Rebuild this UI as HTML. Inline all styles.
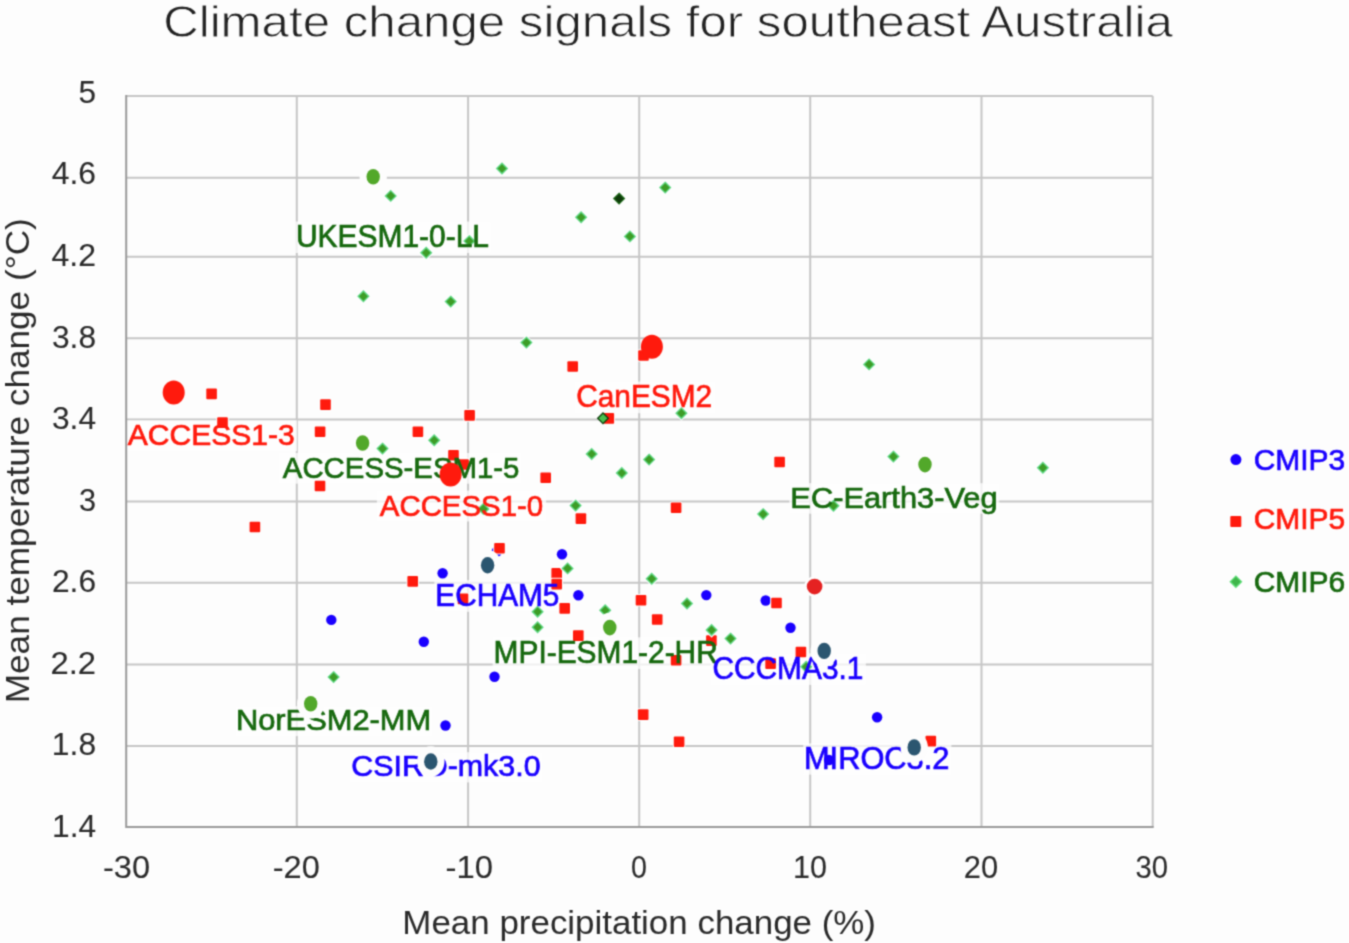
<!DOCTYPE html><html><head><meta charset="utf-8"><style>html,body{margin:0;padding:0;background:#fdfdfd;}svg{display:block;}text{font-family:"Liberation Sans",sans-serif;}</style></head><body>
<svg width="1349" height="943" viewBox="0 0 1349 943">
<defs><filter id="b" x="0" y="0" width="1349" height="943" filterUnits="userSpaceOnUse" color-interpolation-filters="sRGB"><feConvolveMatrix order="3" kernelMatrix="0.0400 0.1200 0.0400 0.1200 0.3600 0.1200 0.0400 0.1200 0.0400" edgeMode="duplicate" preserveAlpha="true"/></filter></defs><g filter="url(#b)">
<rect width="1349" height="943" fill="#fdfdfd"/>
<path d="M126.2 96.00H1152.7 M126.2 177.70H1152.7 M126.2 256.70H1152.7 M126.2 338.30H1152.7 M126.2 419.45H1152.7 M126.2 501.45H1152.7 M126.2 582.80H1152.7 M126.2 664.45H1152.7 M126.2 745.90H1152.7 M296.80 96.0V826.9 M468.10 96.0V826.9 M639.20 96.0V826.9 M810.20 96.0V826.9 M981.50 96.0V826.9 M1152.70 96.0V826.9" stroke="#c6c6c6" stroke-width="2" fill="none"/>
<rect x="295.2" y="221.5" width="196.1" height="31.5" fill="#fdfdfd" fill-opacity="0.75"/>
<rect x="124.4" y="420.3" width="172.6" height="30.9" fill="#fdfdfd" fill-opacity="0.75"/>
<rect x="279.4" y="453.0" width="242.0" height="30.7" fill="#fdfdfd" fill-opacity="0.75"/>
<rect x="574.5" y="381.6" width="140.1" height="31.6" fill="#fdfdfd" fill-opacity="0.75"/>
<rect x="376.9" y="490.6" width="169.2" height="30.9" fill="#fdfdfd" fill-opacity="0.75"/>
<rect x="789.3" y="483.2" width="209.9" height="30.5" fill="#fdfdfd" fill-opacity="0.75"/>
<rect x="434.3" y="580.1" width="127.6" height="31.7" fill="#fdfdfd" fill-opacity="0.75"/>
<rect x="492.6" y="637.4" width="226.9" height="31.5" fill="#fdfdfd" fill-opacity="0.75"/>
<rect x="710.8" y="653.3" width="155.1" height="31.6" fill="#fdfdfd" fill-opacity="0.75"/>
<rect x="235.2" y="706.2" width="196.9" height="29.9" fill="#fdfdfd" fill-opacity="0.75"/>
<rect x="349.3" y="752.2" width="193.4" height="30.2" fill="#fdfdfd" fill-opacity="0.75"/>
<rect x="803.2" y="743.4" width="148.2" height="31.2" fill="#fdfdfd" fill-opacity="0.75"/>
<path d="M126.20 95.0V826.90H1153.7" stroke="#9a9a9a" stroke-width="2" fill="none"/>
<circle cx="331.3" cy="619.9" r="5.2" fill="#1a00ff" stroke="#fdfdfd" stroke-width="2" paint-order="stroke"/>
<circle cx="442.6" cy="573.3" r="5.2" fill="#1a00ff" stroke="#fdfdfd" stroke-width="2" paint-order="stroke"/>
<circle cx="496.8" cy="551.5" r="5.2" fill="#1a00ff" stroke="#fdfdfd" stroke-width="2" paint-order="stroke"/>
<circle cx="562" cy="554.2" r="5.2" fill="#1a00ff" stroke="#fdfdfd" stroke-width="2" paint-order="stroke"/>
<circle cx="578.4" cy="595.3" r="5.2" fill="#1a00ff" stroke="#fdfdfd" stroke-width="2" paint-order="stroke"/>
<circle cx="706.3" cy="595.1" r="5.2" fill="#1a00ff" stroke="#fdfdfd" stroke-width="2" paint-order="stroke"/>
<circle cx="765.7" cy="600.5" r="5.2" fill="#1a00ff" stroke="#fdfdfd" stroke-width="2" paint-order="stroke"/>
<circle cx="790.5" cy="627.8" r="5.2" fill="#1a00ff" stroke="#fdfdfd" stroke-width="2" paint-order="stroke"/>
<circle cx="494.5" cy="676.8" r="5.2" fill="#1a00ff" stroke="#fdfdfd" stroke-width="2" paint-order="stroke"/>
<circle cx="423.8" cy="641.7" r="5.2" fill="#1a00ff" stroke="#fdfdfd" stroke-width="2" paint-order="stroke"/>
<circle cx="445.5" cy="725.5" r="5.2" fill="#1a00ff" stroke="#fdfdfd" stroke-width="2" paint-order="stroke"/>
<circle cx="877.1" cy="717.3" r="5.2" fill="#1a00ff" stroke="#fdfdfd" stroke-width="2" paint-order="stroke"/>
<circle cx="829" cy="760" r="5.2" fill="#1a00ff" stroke="#fdfdfd" stroke-width="2" paint-order="stroke"/>
<rect x="206.3" y="388.6" width="10.6" height="10.6" rx="1" fill="#ff1a0d" stroke="#fdfdfd" stroke-width="2" paint-order="stroke"/>
<rect x="217.2" y="417.3" width="10.6" height="10.6" rx="1" fill="#ff1a0d" stroke="#fdfdfd" stroke-width="2" paint-order="stroke"/>
<rect x="320.2" y="399.3" width="10.6" height="10.6" rx="1" fill="#ff1a0d" stroke="#fdfdfd" stroke-width="2" paint-order="stroke"/>
<rect x="314.8" y="426.4" width="10.6" height="10.6" rx="1" fill="#ff1a0d" stroke="#fdfdfd" stroke-width="2" paint-order="stroke"/>
<rect x="314.7" y="480.7" width="10.6" height="10.6" rx="1" fill="#ff1a0d" stroke="#fdfdfd" stroke-width="2" paint-order="stroke"/>
<rect x="249.6" y="521.7" width="10.6" height="10.6" rx="1" fill="#ff1a0d" stroke="#fdfdfd" stroke-width="2" paint-order="stroke"/>
<rect x="412.6" y="426.5" width="10.6" height="10.6" rx="1" fill="#ff1a0d" stroke="#fdfdfd" stroke-width="2" paint-order="stroke"/>
<rect x="464.3" y="410.1" width="10.6" height="10.6" rx="1" fill="#ff1a0d" stroke="#fdfdfd" stroke-width="2" paint-order="stroke"/>
<rect x="448.2" y="449.9" width="10.6" height="10.6" rx="1" fill="#ff1a0d" stroke="#fdfdfd" stroke-width="2" paint-order="stroke"/>
<rect x="458.3" y="459.2" width="10.6" height="10.6" rx="1" fill="#ff1a0d" stroke="#fdfdfd" stroke-width="2" paint-order="stroke"/>
<rect x="540.4" y="472.5" width="10.6" height="10.6" rx="1" fill="#ff1a0d" stroke="#fdfdfd" stroke-width="2" paint-order="stroke"/>
<rect x="567.4" y="361.2" width="10.6" height="10.6" rx="1" fill="#ff1a0d" stroke="#fdfdfd" stroke-width="2" paint-order="stroke"/>
<rect x="638.2" y="350.2" width="10.6" height="10.6" rx="1" fill="#ff1a0d" stroke="#fdfdfd" stroke-width="2" paint-order="stroke"/>
<rect x="603.5" y="413.1" width="10.6" height="10.6" rx="1" fill="#ff1a0d" stroke="#fdfdfd" stroke-width="2" paint-order="stroke"/>
<rect x="575.6" y="513.3" width="10.6" height="10.6" rx="1" fill="#ff1a0d" stroke="#fdfdfd" stroke-width="2" paint-order="stroke"/>
<rect x="407.4" y="576.1" width="10.6" height="10.6" rx="1" fill="#ff1a0d" stroke="#fdfdfd" stroke-width="2" paint-order="stroke"/>
<rect x="494.2" y="542.9" width="10.6" height="10.6" rx="1" fill="#ff1a0d" stroke="#fdfdfd" stroke-width="2" paint-order="stroke"/>
<rect x="457.7" y="593.6" width="10.6" height="10.6" rx="1" fill="#ff1a0d" stroke="#fdfdfd" stroke-width="2" paint-order="stroke"/>
<rect x="551.4" y="567.9" width="10.6" height="10.6" rx="1" fill="#ff1a0d" stroke="#fdfdfd" stroke-width="2" paint-order="stroke"/>
<rect x="551.4" y="578.8" width="10.6" height="10.6" rx="1" fill="#ff1a0d" stroke="#fdfdfd" stroke-width="2" paint-order="stroke"/>
<rect x="559.4" y="603.1" width="10.6" height="10.6" rx="1" fill="#ff1a0d" stroke="#fdfdfd" stroke-width="2" paint-order="stroke"/>
<rect x="573.0" y="630.3" width="10.6" height="10.6" rx="1" fill="#ff1a0d" stroke="#fdfdfd" stroke-width="2" paint-order="stroke"/>
<rect x="635.7" y="595.0" width="10.6" height="10.6" rx="1" fill="#ff1a0d" stroke="#fdfdfd" stroke-width="2" paint-order="stroke"/>
<rect x="651.9" y="614.2" width="10.6" height="10.6" rx="1" fill="#ff1a0d" stroke="#fdfdfd" stroke-width="2" paint-order="stroke"/>
<rect x="670.8" y="502.5" width="10.6" height="10.6" rx="1" fill="#ff1a0d" stroke="#fdfdfd" stroke-width="2" paint-order="stroke"/>
<rect x="774.3" y="456.7" width="10.6" height="10.6" rx="1" fill="#ff1a0d" stroke="#fdfdfd" stroke-width="2" paint-order="stroke"/>
<rect x="771.2" y="597.7" width="10.6" height="10.6" rx="1" fill="#ff1a0d" stroke="#fdfdfd" stroke-width="2" paint-order="stroke"/>
<rect x="706.1" y="635.3" width="10.6" height="10.6" rx="1" fill="#ff1a0d" stroke="#fdfdfd" stroke-width="2" paint-order="stroke"/>
<rect x="670.8" y="655.0" width="10.6" height="10.6" rx="1" fill="#ff1a0d" stroke="#fdfdfd" stroke-width="2" paint-order="stroke"/>
<rect x="765.3" y="658.3" width="10.6" height="10.6" rx="1" fill="#ff1a0d" stroke="#fdfdfd" stroke-width="2" paint-order="stroke"/>
<rect x="795.6" y="646.7" width="10.6" height="10.6" rx="1" fill="#ff1a0d" stroke="#fdfdfd" stroke-width="2" paint-order="stroke"/>
<rect x="637.9" y="709.3" width="10.6" height="10.6" rx="1" fill="#ff1a0d" stroke="#fdfdfd" stroke-width="2" paint-order="stroke"/>
<rect x="673.8" y="736.4" width="10.6" height="10.6" rx="1" fill="#ff1a0d" stroke="#fdfdfd" stroke-width="2" paint-order="stroke"/>
<rect x="925.5" y="735.8" width="10.6" height="10.6" rx="1" fill="#ff1a0d" stroke="#fdfdfd" stroke-width="2" paint-order="stroke"/>
<path d="M390.7 190.6L396.0 195.9L390.7 201.2L385.4 195.9Z" fill="#fdfdfd" stroke="#fdfdfd" stroke-width="3.3"/><path d="M390.7 190.6L396.0 195.9L390.7 201.2L385.4 195.9Z" fill="#3d9d27" stroke="#5fd886" stroke-width="1.3"/>
<path d="M502.0 163.2L507.3 168.5L502.0 173.8L496.7 168.5Z" fill="#fdfdfd" stroke="#fdfdfd" stroke-width="3.3"/><path d="M502.0 163.2L507.3 168.5L502.0 173.8L496.7 168.5Z" fill="#3d9d27" stroke="#5fd886" stroke-width="1.3"/>
<path d="M581.1 212.0L586.4 217.3L581.1 222.6L575.8 217.3Z" fill="#fdfdfd" stroke="#fdfdfd" stroke-width="3.3"/><path d="M581.1 212.0L586.4 217.3L581.1 222.6L575.8 217.3Z" fill="#3d9d27" stroke="#5fd886" stroke-width="1.3"/>
<path d="M629.9 231.1L635.2 236.4L629.9 241.7L624.6 236.4Z" fill="#fdfdfd" stroke="#fdfdfd" stroke-width="3.3"/><path d="M629.9 231.1L635.2 236.4L629.9 241.7L624.6 236.4Z" fill="#3d9d27" stroke="#5fd886" stroke-width="1.3"/>
<path d="M665.2 182.3L670.5 187.6L665.2 192.9L659.9 187.6Z" fill="#fdfdfd" stroke="#fdfdfd" stroke-width="3.3"/><path d="M665.2 182.3L670.5 187.6L665.2 192.9L659.9 187.6Z" fill="#3d9d27" stroke="#5fd886" stroke-width="1.3"/>
<path d="M426.2 247.5L431.5 252.8L426.2 258.1L420.9 252.8Z" fill="#fdfdfd" stroke="#fdfdfd" stroke-width="3.3"/><path d="M426.2 247.5L431.5 252.8L426.2 258.1L420.9 252.8Z" fill="#3d9d27" stroke="#5fd886" stroke-width="1.3"/>
<path d="M469.3 235.8L474.6 241.1L469.3 246.4L464.0 241.1Z" fill="#fdfdfd" stroke="#fdfdfd" stroke-width="3.3"/><path d="M469.3 235.8L474.6 241.1L469.3 246.4L464.0 241.1Z" fill="#3d9d27" stroke="#5fd886" stroke-width="1.3"/>
<path d="M363.4 291.0L368.7 296.3L363.4 301.6L358.1 296.3Z" fill="#fdfdfd" stroke="#fdfdfd" stroke-width="3.3"/><path d="M363.4 291.0L368.7 296.3L363.4 301.6L358.1 296.3Z" fill="#3d9d27" stroke="#5fd886" stroke-width="1.3"/>
<path d="M450.7 296.3L456.0 301.6L450.7 306.9L445.4 301.6Z" fill="#fdfdfd" stroke="#fdfdfd" stroke-width="3.3"/><path d="M450.7 296.3L456.0 301.6L450.7 306.9L445.4 301.6Z" fill="#3d9d27" stroke="#5fd886" stroke-width="1.3"/>
<path d="M526.4 337.3L531.7 342.6L526.4 347.9L521.1 342.6Z" fill="#fdfdfd" stroke="#fdfdfd" stroke-width="3.3"/><path d="M526.4 337.3L531.7 342.6L526.4 347.9L521.1 342.6Z" fill="#3d9d27" stroke="#5fd886" stroke-width="1.3"/>
<path d="M382.5 443.3L387.8 448.6L382.5 453.9L377.2 448.6Z" fill="#fdfdfd" stroke="#fdfdfd" stroke-width="3.3"/><path d="M382.5 443.3L387.8 448.6L382.5 453.9L377.2 448.6Z" fill="#3d9d27" stroke="#5fd886" stroke-width="1.3"/>
<path d="M434.2 435.0L439.5 440.3L434.2 445.6L428.9 440.3Z" fill="#fdfdfd" stroke="#fdfdfd" stroke-width="3.3"/><path d="M434.2 435.0L439.5 440.3L434.2 445.6L428.9 440.3Z" fill="#3d9d27" stroke="#5fd886" stroke-width="1.3"/>
<path d="M681.4 407.9L686.7 413.2L681.4 418.5L676.1 413.2Z" fill="#fdfdfd" stroke="#fdfdfd" stroke-width="3.3"/><path d="M681.4 407.9L686.7 413.2L681.4 418.5L676.1 413.2Z" fill="#3d9d27" stroke="#5fd886" stroke-width="1.3"/>
<path d="M591.7 448.7L597.0 454.0L591.7 459.3L586.4 454.0Z" fill="#fdfdfd" stroke="#fdfdfd" stroke-width="3.3"/><path d="M591.7 448.7L597.0 454.0L591.7 459.3L586.4 454.0Z" fill="#3d9d27" stroke="#5fd886" stroke-width="1.3"/>
<path d="M621.8 467.7L627.1 473.0L621.8 478.3L616.5 473.0Z" fill="#fdfdfd" stroke="#fdfdfd" stroke-width="3.3"/><path d="M621.8 467.7L627.1 473.0L621.8 478.3L616.5 473.0Z" fill="#3d9d27" stroke="#5fd886" stroke-width="1.3"/>
<path d="M649.1 454.3L654.4 459.6L649.1 464.9L643.8 459.6Z" fill="#fdfdfd" stroke="#fdfdfd" stroke-width="3.3"/><path d="M649.1 454.3L654.4 459.6L649.1 464.9L643.8 459.6Z" fill="#3d9d27" stroke="#5fd886" stroke-width="1.3"/>
<path d="M483.4 503.6L488.7 508.9L483.4 514.2L478.1 508.9Z" fill="#fdfdfd" stroke="#fdfdfd" stroke-width="3.3"/><path d="M483.4 503.6L488.7 508.9L483.4 514.2L478.1 508.9Z" fill="#3d9d27" stroke="#5fd886" stroke-width="1.3"/>
<path d="M575.6 500.3L580.9 505.6L575.6 510.9L570.3 505.6Z" fill="#fdfdfd" stroke="#fdfdfd" stroke-width="3.3"/><path d="M575.6 500.3L580.9 505.6L575.6 510.9L570.3 505.6Z" fill="#3d9d27" stroke="#5fd886" stroke-width="1.3"/>
<path d="M567.6 563.1L572.9 568.4L567.6 573.7L562.3 568.4Z" fill="#fdfdfd" stroke="#fdfdfd" stroke-width="3.3"/><path d="M567.6 563.1L572.9 568.4L567.6 573.7L562.3 568.4Z" fill="#3d9d27" stroke="#5fd886" stroke-width="1.3"/>
<path d="M537.6 606.4L542.9 611.7L537.6 617.0L532.3 611.7Z" fill="#fdfdfd" stroke="#fdfdfd" stroke-width="3.3"/><path d="M537.6 606.4L542.9 611.7L537.6 617.0L532.3 611.7Z" fill="#3d9d27" stroke="#5fd886" stroke-width="1.3"/>
<path d="M537.6 621.9L542.9 627.2L537.6 632.5L532.3 627.2Z" fill="#fdfdfd" stroke="#fdfdfd" stroke-width="3.3"/><path d="M537.6 621.9L542.9 627.2L537.6 632.5L532.3 627.2Z" fill="#3d9d27" stroke="#5fd886" stroke-width="1.3"/>
<path d="M605.2 605.0L610.5 610.3L605.2 615.6L599.9 610.3Z" fill="#fdfdfd" stroke="#fdfdfd" stroke-width="3.3"/><path d="M605.2 605.0L610.5 610.3L605.2 615.6L599.9 610.3Z" fill="#3d9d27" stroke="#5fd886" stroke-width="1.3"/>
<path d="M651.7 573.5L657.0 578.8L651.7 584.1L646.4 578.8Z" fill="#fdfdfd" stroke="#fdfdfd" stroke-width="3.3"/><path d="M651.7 573.5L657.0 578.8L651.7 584.1L646.4 578.8Z" fill="#3d9d27" stroke="#5fd886" stroke-width="1.3"/>
<path d="M687.0 598.2L692.3 603.5L687.0 608.8L681.7 603.5Z" fill="#fdfdfd" stroke="#fdfdfd" stroke-width="3.3"/><path d="M687.0 598.2L692.3 603.5L687.0 608.8L681.7 603.5Z" fill="#3d9d27" stroke="#5fd886" stroke-width="1.3"/>
<path d="M711.6 624.7L716.9 630.0L711.6 635.3L706.3 630.0Z" fill="#fdfdfd" stroke="#fdfdfd" stroke-width="3.3"/><path d="M711.6 624.7L716.9 630.0L711.6 635.3L706.3 630.0Z" fill="#3d9d27" stroke="#5fd886" stroke-width="1.3"/>
<path d="M730.5 633.3L735.8 638.6L730.5 643.9L725.2 638.6Z" fill="#fdfdfd" stroke="#fdfdfd" stroke-width="3.3"/><path d="M730.5 633.3L735.8 638.6L730.5 643.9L725.2 638.6Z" fill="#3d9d27" stroke="#5fd886" stroke-width="1.3"/>
<path d="M763.1 508.8L768.4 514.1L763.1 519.4L757.8 514.1Z" fill="#fdfdfd" stroke="#fdfdfd" stroke-width="3.3"/><path d="M763.1 508.8L768.4 514.1L763.1 519.4L757.8 514.1Z" fill="#3d9d27" stroke="#5fd886" stroke-width="1.3"/>
<path d="M833.5 500.5L838.8 505.8L833.5 511.1L828.2 505.8Z" fill="#fdfdfd" stroke="#fdfdfd" stroke-width="3.3"/><path d="M833.5 500.5L838.8 505.8L833.5 511.1L828.2 505.8Z" fill="#3d9d27" stroke="#5fd886" stroke-width="1.3"/>
<path d="M869.1 359.1L874.4 364.4L869.1 369.7L863.8 364.4Z" fill="#fdfdfd" stroke="#fdfdfd" stroke-width="3.3"/><path d="M869.1 359.1L874.4 364.4L869.1 369.7L863.8 364.4Z" fill="#3d9d27" stroke="#5fd886" stroke-width="1.3"/>
<path d="M893.4 451.3L898.7 456.6L893.4 461.9L888.1 456.6Z" fill="#fdfdfd" stroke="#fdfdfd" stroke-width="3.3"/><path d="M893.4 451.3L898.7 456.6L893.4 461.9L888.1 456.6Z" fill="#3d9d27" stroke="#5fd886" stroke-width="1.3"/>
<path d="M1042.9 462.4L1048.2 467.7L1042.9 473.0L1037.6 467.7Z" fill="#fdfdfd" stroke="#fdfdfd" stroke-width="3.3"/><path d="M1042.9 462.4L1048.2 467.7L1042.9 473.0L1037.6 467.7Z" fill="#3d9d27" stroke="#5fd886" stroke-width="1.3"/>
<path d="M333.6 671.8L338.9 677.1L333.6 682.4L328.3 677.1Z" fill="#fdfdfd" stroke="#fdfdfd" stroke-width="3.3"/><path d="M333.6 671.8L338.9 677.1L333.6 682.4L328.3 677.1Z" fill="#3d9d27" stroke="#5fd886" stroke-width="1.3"/>
<path d="M806.2 661.5L811.5 666.8L806.2 672.1L800.9 666.8Z" fill="#fdfdfd" stroke="#fdfdfd" stroke-width="3.3"/><path d="M806.2 661.5L811.5 666.8L806.2 672.1L800.9 666.8Z" fill="#3d9d27" stroke="#5fd886" stroke-width="1.3"/>
<path d="M619.1 193.3L624.4 198.6L619.1 203.9L613.8 198.6Z" fill="#fdfdfd" stroke="#fdfdfd" stroke-width="3.3"/><path d="M619.1 193.3L624.4 198.6L619.1 203.9L613.8 198.6Z" fill="#0e3a0a" stroke="#1f6a1a" stroke-width="1.3"/>
<path d="M603.0 413.0L608.3 418.3L603.0 423.6L597.7 418.3Z" fill="#49c050" stroke="#0d3d0a" stroke-width="1.3"/>
<text x="295.97" y="247.00" font-size="30.96" fill="#17690f" stroke="#17690f" stroke-width="0.7" textLength="193.04" lengthAdjust="spacingAndGlyphs">UKESM1-0-LL</text>
<text x="127.8" y="445.20" font-size="30.09" fill="#ff1a0d" stroke="#ff1a0d" stroke-width="0.7" textLength="166.99" lengthAdjust="spacingAndGlyphs">ACCESS1-3</text>
<text x="282.8" y="477.70" font-size="29.8" fill="#17690f" stroke="#17690f" stroke-width="0.7" textLength="236.6" lengthAdjust="spacingAndGlyphs">ACCESS-ESM1-5</text>
<text x="576.18" y="407.20" font-size="31.11" fill="#ff1a0d" stroke="#ff1a0d" stroke-width="0.7" textLength="136.04" lengthAdjust="spacingAndGlyphs">CanESM2</text>
<text x="379.8" y="515.50" font-size="30.09" fill="#ff1a0d" stroke="#ff1a0d" stroke-width="0.7" textLength="163.39" lengthAdjust="spacingAndGlyphs">ACCESS1-0</text>
<text x="790.35" y="507.70" font-size="29.51" fill="#17690f" stroke="#17690f" stroke-width="0.7" textLength="207.27" lengthAdjust="spacingAndGlyphs">EC-Earth3-Veg</text>
<text x="435.34" y="605.80" font-size="31.25" fill="#1a00ff" stroke="#1a00ff" stroke-width="0.7" textLength="124.06" lengthAdjust="spacingAndGlyphs">ECHAM5</text>
<text x="493.56" y="662.90" font-size="30.96" fill="#17690f" stroke="#17690f" stroke-width="0.7" textLength="224.25" lengthAdjust="spacingAndGlyphs">MPI-ESM1-2-HR</text>
<text x="712.38" y="678.90" font-size="31.11" fill="#1a00ff" stroke="#1a00ff" stroke-width="0.7" textLength="151.02" lengthAdjust="spacingAndGlyphs">CCCMA3.1</text>
<text x="235.93" y="730.10" font-size="28.63" fill="#17690f" stroke="#17690f" stroke-width="0.7" textLength="195.31" lengthAdjust="spacingAndGlyphs">NorESM2-MM</text>
<text x="351.38" y="776.40" font-size="29.07" fill="#1a00ff" stroke="#1a00ff" stroke-width="0.7" textLength="189.23" lengthAdjust="spacingAndGlyphs">CSIRO-mk3.0</text>
<text x="803.93" y="768.60" font-size="30.52" fill="#1a00ff" stroke="#1a00ff" stroke-width="0.7" textLength="145.5" lengthAdjust="spacingAndGlyphs">MIROC3.2</text>
<ellipse cx="373.2" cy="176.7" rx="6.7" ry="7.8" fill="#52a82a" stroke="#fdfdfd" stroke-width="14" paint-order="stroke"/>
<ellipse cx="362.6" cy="443" rx="6.7" ry="7.8" fill="#52a82a" stroke="#fdfdfd" stroke-width="14" paint-order="stroke"/>
<ellipse cx="925" cy="464.6" rx="6.7" ry="7.8" fill="#52a82a" stroke="#fdfdfd" stroke-width="14" paint-order="stroke"/>
<ellipse cx="609.8" cy="627.6" rx="6.7" ry="7.8" fill="#52a82a" stroke="#fdfdfd" stroke-width="14" paint-order="stroke"/>
<ellipse cx="310.7" cy="703.8" rx="6.7" ry="7.8" fill="#52a82a" stroke="#fdfdfd" stroke-width="14" paint-order="stroke"/>
<ellipse cx="487.6" cy="565.2" rx="6.7" ry="8.2" fill="#2b5670" stroke="#fdfdfd" stroke-width="14" paint-order="stroke"/>
<ellipse cx="824.2" cy="650.9" rx="6.7" ry="8.2" fill="#2b5670" stroke="#fdfdfd" stroke-width="14" paint-order="stroke"/>
<ellipse cx="914.2" cy="747.4" rx="6.7" ry="8.2" fill="#2b5670" stroke="#fdfdfd" stroke-width="14" paint-order="stroke"/>
<ellipse cx="430.8" cy="761.5" rx="6.7" ry="8.2" fill="#2b5670" stroke="#fdfdfd" stroke-width="14" paint-order="stroke"/>
<circle cx="814.6" cy="586.6" r="7.8" fill="#e52222" stroke="#fdfdfd" stroke-width="5" paint-order="stroke"/>
<ellipse cx="173.7" cy="392.4" rx="11" ry="12" fill="#ff1a0d"/>
<ellipse cx="651.9" cy="346.7" rx="11" ry="12" fill="#ff1a0d"/>
<ellipse cx="450.6" cy="474.4" rx="11" ry="12" fill="#ff1a0d"/>
<text x="78.62" y="102.80" font-size="31.11" fill="#2b2b2b" stroke="#2b2b2b" stroke-width="0.1" textLength="17.56" lengthAdjust="spacingAndGlyphs">5</text>
<text x="51.77" y="184.40" font-size="31.11" fill="#2b2b2b" stroke="#2b2b2b" stroke-width="0.1" textLength="44.26" lengthAdjust="spacingAndGlyphs">4.6</text>
<text x="51.57" y="265.80" font-size="31.11" fill="#2b2b2b" stroke="#2b2b2b" stroke-width="0.1" textLength="44.48" lengthAdjust="spacingAndGlyphs">4.2</text>
<text x="51.95" y="347.50" font-size="31.11" fill="#2b2b2b" stroke="#2b2b2b" stroke-width="0.1" textLength="44.1" lengthAdjust="spacingAndGlyphs">3.8</text>
<text x="51.96" y="429.20" font-size="31.11" fill="#2b2b2b" stroke="#2b2b2b" stroke-width="0.1" textLength="44.07" lengthAdjust="spacingAndGlyphs">3.4</text>
<text x="79.03" y="510.60" font-size="31.11" fill="#2b2b2b" stroke="#2b2b2b" stroke-width="0.1" textLength="17.1" lengthAdjust="spacingAndGlyphs">3</text>
<text x="51.95" y="592.40" font-size="31.11" fill="#2b2b2b" stroke="#2b2b2b" stroke-width="0.1" textLength="44.1" lengthAdjust="spacingAndGlyphs">2.6</text>
<text x="50.49" y="673.90" font-size="31.11" fill="#2b2b2b" stroke="#2b2b2b" stroke-width="0.1" textLength="45.59" lengthAdjust="spacingAndGlyphs">2.2</text>
<text x="51.85" y="755.40" font-size="31.11" fill="#2b2b2b" stroke="#2b2b2b" stroke-width="0.1" textLength="44.24" lengthAdjust="spacingAndGlyphs">1.8</text>
<text x="52.05" y="836.80" font-size="31.11" fill="#2b2b2b" stroke="#2b2b2b" stroke-width="0.1" textLength="44.0" lengthAdjust="spacingAndGlyphs">1.4</text>
<text x="102.96" y="877.50" font-size="30.96" fill="#2b2b2b" stroke="#2b2b2b" stroke-width="0.1" textLength="47.1" lengthAdjust="spacingAndGlyphs">-30</text>
<text x="272.76" y="877.50" font-size="30.96" fill="#2b2b2b" stroke="#2b2b2b" stroke-width="0.1" textLength="47.12" lengthAdjust="spacingAndGlyphs">-20</text>
<text x="445.55" y="877.50" font-size="30.96" fill="#2b2b2b" stroke="#2b2b2b" stroke-width="0.1" textLength="47.49" lengthAdjust="spacingAndGlyphs">-10</text>
<text x="630.9" y="877.50" font-size="30.96" fill="#2b2b2b" stroke="#2b2b2b" stroke-width="0.1" textLength="15.94" lengthAdjust="spacingAndGlyphs">0</text>
<text x="792.99" y="877.50" font-size="30.96" fill="#2b2b2b" stroke="#2b2b2b" stroke-width="0.1" textLength="33.93" lengthAdjust="spacingAndGlyphs">10</text>
<text x="963.74" y="877.50" font-size="30.96" fill="#2b2b2b" stroke="#2b2b2b" stroke-width="0.1" textLength="34.32" lengthAdjust="spacingAndGlyphs">20</text>
<text x="1135.54" y="877.50" font-size="30.96" fill="#2b2b2b" stroke="#2b2b2b" stroke-width="0.1" textLength="32.51" lengthAdjust="spacingAndGlyphs">30</text>
<text x="163.2" y="37.20" font-size="44.0" fill="#222222" textLength="1009.57" lengthAdjust="spacingAndGlyphs" stroke="#fdfdfd" stroke-width="0.8">Climate change signals for southeast Australia</text>
<text x="402.37" y="933.50" font-size="32.3" fill="#2a2a2a" textLength="473.64" lengthAdjust="spacingAndGlyphs">Mean precipitation change (%)</text>
<text x="1253.77" y="470.00" font-size="30.23" fill="#1a00ff" stroke="#1a00ff" stroke-width="0.7" textLength="91.44" lengthAdjust="spacingAndGlyphs">CMIP3</text>
<text x="1253.77" y="529.20" font-size="30.23" fill="#ff1a0d" stroke="#ff1a0d" stroke-width="0.7" textLength="91.44" lengthAdjust="spacingAndGlyphs">CMIP5</text>
<text x="1253.77" y="592.00" font-size="30.23" fill="#17690f" stroke="#17690f" stroke-width="0.7" textLength="91.44" lengthAdjust="spacingAndGlyphs">CMIP6</text>
<g transform="rotate(-90)"><text x="-703.22" y="29.20" font-size="32.3" fill="#2a2a2a" textLength="485.03" lengthAdjust="spacingAndGlyphs">Mean temperature change (°C)</text></g>
<circle cx="1235.9" cy="459.6" r="5.5" fill="#1a00ff"/>
<rect x="1230.3" y="515.9" width="11" height="11" rx="1" fill="#ff1a0d"/>
<path d="M1235.9 576.1L1241.5 581.7L1235.9 587.3L1230.3 581.7Z" fill="#3fb54a" stroke="#5fdc78" stroke-width="1.3"/>
</g></svg></body></html>
